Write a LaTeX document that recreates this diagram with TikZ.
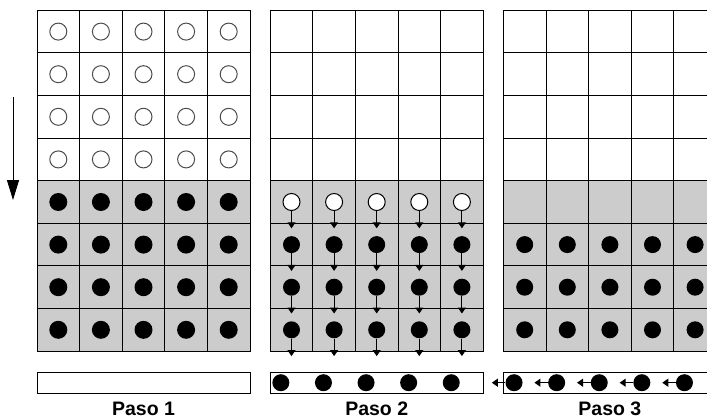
\documentclass[tikz,border=0pt]{standalone}
\usepackage{fontspec}
\setmainfont{Liberation Sans}
\usetikzlibrary{arrows.meta,positioning}
\definecolor{cellgray}{RGB}{204,204,204}
\tikzset{
  cellbox/.style = {
    draw=black,
    line width=0.9pt,
    minimum width=42.6pt,
    minimum height=42.6pt,
    inner sep=0pt,
    outer sep=0pt
  },
  emptycell/.style = {cellbox, fill=white},
  fullcell/.style = {cellbox, fill=cellgray},
  opendot/.style = {
    circle,
    draw=black!70,
    line width=1pt,
    fill=white,
    minimum size=17pt,
    inner sep=0pt
  },
  movedot/.style = {opendot, draw=black},
  soliddot/.style = {
    circle,
    fill=black,
    minimum size=18pt,
    inner sep=0pt
  },
  slotbar/.style = {
    draw=black,
    line width=1pt,
    fill=white,
    minimum width=213pt,
    minimum height=21pt,
    inner sep=0pt
  },
  steplabel/.style = {
    font=\bfseries\fontsize{19.5}{23}\selectfont,
    anchor=base
  },
  droparrow/.style = {
    -{Triangle[length=6pt,width=8pt]},
    line width=1pt
  },
  timearrow/.style = {
    -{Triangle[length=20pt,width=12pt]},
    line width=1pt
  }
}

\begin{document}
\begin{tikzpicture}[x=1pt,y=-1pt]
    \useasboundingbox (0,0) rectangle (707,418);
    \clip (0,0) rectangle (707,418);
    % rejillas
    \foreach \g in {1,2,3}
      \foreach \c in {1,...,5} {
        \foreach \r in {1,...,4}
          \node[emptycell] (c\g-\r-\c) at ({37+(\g-1)*233.2+(\c-0.5)*42.6},{10.3+(\r-0.5)*42.6}) {};
        \foreach \r in {5,...,8}
          \node[fullcell] (c\g-\r-\c) at ({37+(\g-1)*233.2+(\c-0.5)*42.6},{10.3+(\r-0.5)*42.6}) {};
      }
    % paso 1
    \foreach \c in {1,...,5} {
      \foreach \r in {1,...,4}
        \node[opendot] (o1-\r-\c) at (c1-\r-\c) {};
      \foreach \r in {5,...,8}
        \node[soliddot] (s1-\r-\c) at (c1-\r-\c) {};
    }
    % paso 2
    \foreach \c in {1,...,5} {
      \node[movedot] (s2-5-\c) at (c2-5-\c) {};
      \foreach \r in {6,7,8}
        \node[soliddot, minimum size=17pt] (s2-\r-\c) at (c2-\r-\c) {};
      \foreach \r in {5,...,8} {
        \path (c2-\r-\c.south) ++(0,5) coordinate (t2-\r-\c);
        \draw[droparrow] (s2-\r-\c.south) -- (t2-\r-\c);
      }
    }
    % paso 3
    \foreach \c in {1,...,5}
      \foreach \r in {6,7,8}
        \node[soliddot, minimum size=17pt] (s3-\r-\c) at (c3-\r-\c) {};
    % barras de salida
    \foreach \g in {1,2,3}
      \node[slotbar] (bar\g) at ({37+(\g-1)*233.2+106.5},382.5) {};
    \foreach \c in {1,...,5} {
      \node[soliddot, minimum size=17pt] (b2-\c) at ({270.2+(\c-0.75)*42.6},382.7) {};
      \node[soliddot, minimum size=17pt] (b3-\c) at ({503.4+(\c-0.75)*42.6},382.7) {};
      \path (b3-\c.west) ++(-13.5,0) coordinate (t3-\c);
      \draw[droparrow] (b3-\c.west) -- (t3-\c);
    }
    % flecha de avance
    \coordinate (flowtop) at (13,97);
    \coordinate (flowend) at (13,200);
    \draw[timearrow] (flowtop) -- (flowend);
    % etiquetas
    \node[steplabel] (paso1) at (143.5,415) {Paso 1};
    \node[steplabel] (paso2) at (376.7,415) {Paso 2};
    \node[steplabel] (paso3) at (609.9,415) {Paso 3};
\end{tikzpicture}
\end{document}
